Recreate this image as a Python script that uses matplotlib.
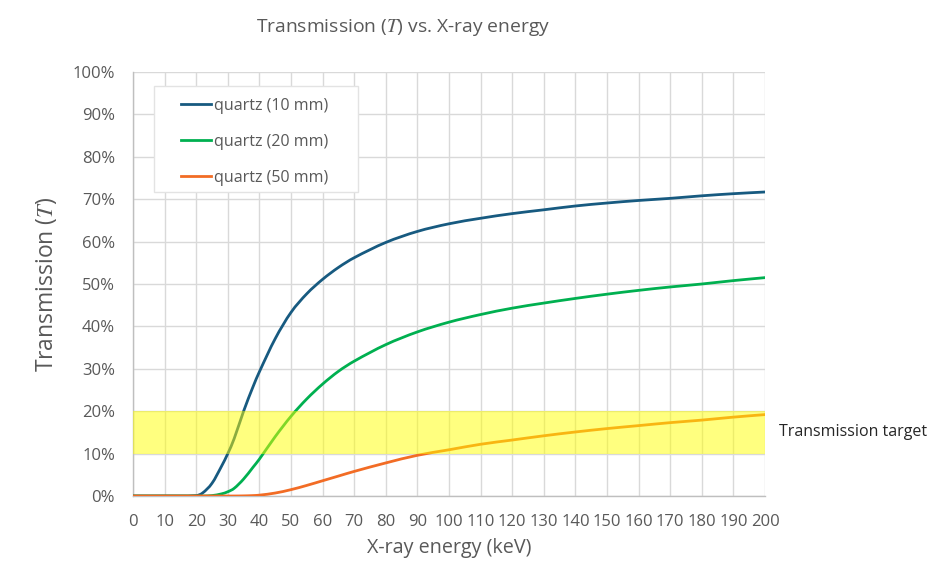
import matplotlib
matplotlib.use("Agg")
import matplotlib.pyplot as plt
from matplotlib.ticker import MultipleLocator, FuncFormatter
from matplotlib.path import Path
from matplotlib.patches import PathPatch, Rectangle
from matplotlib.lines import Line2D

# ---- data ----
energy_keV = [0, 10, 20, 22, 25, 28, 30, 32, 35, 38, 40, 45, 50, 55, 60, 65, 70,
              80, 90, 100, 110, 120, 130, 140, 150, 160, 170, 180, 190, 200]
quartz_10mm = [0, 0, 0.001, 0.007, 0.03, 0.07, 0.10, 0.135, 0.20, 0.258, 0.293, 0.371,
               0.433, 0.477, 0.511, 0.539, 0.562, 0.598, 0.624, 0.642, 0.655, 0.666,
               0.675, 0.684, 0.691, 0.697, 0.702, 0.708, 0.713, 0.717]
quartz_20mm = [0, 0, 0, 0, 0.001, 0.005, 0.01, 0.018, 0.04, 0.068, 0.087, 0.14,
               0.188, 0.229, 0.264, 0.294, 0.318, 0.357, 0.387, 0.41, 0.428, 0.443,
               0.455, 0.466, 0.476, 0.485, 0.493, 0.50, 0.508, 0.515]
quartz_50mm = [0, 0, 0, 0, 0, 0, 0, 0, 0.0003, 0.001, 0.002, 0.007, 0.015, 0.025,
               0.036, 0.047, 0.058, 0.078, 0.096, 0.109, 0.122, 0.132, 0.142, 0.151,
               0.159, 0.166, 0.173, 0.179, 0.186, 0.192]
series_labels = ["quartz (10 mm)", "quartz (20 mm)", "quartz (50 mm)"]
target_band = (0.10, 0.20)
title_text = r"Transmission ($T$) vs. X-ray energy"
xlabel_text = "X-ray energy (keV)"
ylabel_text = r"Transmission ($T$)"
band_label = "Transmission target"

plt.rcParams['font.family'] = ['Open Sans', 'DejaVu Sans']
plt.rcParams['mathtext.fontset'] = 'stix'

W, H = 939, 582
fig = plt.figure(figsize=(W/100, H/100), dpi=100)
ax = fig.add_axes([133/W, 1-496/H, (765-133)/W, (496-72)/H])


def smooth_path(xs, ys):
    """Excel-like smoothed line: cubic Hermite segments drawn as Bezier curves."""
    n = len(xs)
    m = []
    for i in range(n):
        if i == 0:
            m.append((ys[1]-ys[0])/(xs[1]-xs[0]))
        elif i == n-1:
            m.append((ys[-1]-ys[-2])/(xs[-1]-xs[-2]))
        else:
            m.append((ys[i+1]-ys[i-1])/(xs[i+1]-xs[i-1]))
    verts = [(xs[0], ys[0])]
    codes = [Path.MOVETO]
    for i in range(n-1):
        h = xs[i+1]-xs[i]
        verts += [(xs[i]+h/3, ys[i]+m[i]*h/3),
                  (xs[i+1]-h/3, ys[i+1]-m[i+1]*h/3),
                  (xs[i+1], ys[i+1])]
        codes += [Path.CURVE4]*3
    return Path(verts, codes)


colors = ['#175A80', '#00B050', '#F26C25']
handles = []
for y, lab, c in zip([quartz_10mm, quartz_20mm, quartz_50mm], series_labels, colors):
    ax.add_patch(PathPatch(smooth_path(energy_keV, y), fill=False, edgecolor=c,
                           lw=2.0, capstyle='round', joinstyle='round', zorder=3))
    handles.append(Line2D([], [], color=c, lw=2.0, label=lab))

ax.axhspan(target_band[0], target_band[1], color='#FFFF00', alpha=0.5, lw=0, zorder=4)

ax.set_xlim(0, 200)
ax.set_ylim(0, 1.0)
ax.xaxis.set_major_locator(MultipleLocator(10))
ax.yaxis.set_major_locator(MultipleLocator(0.1))
ax.yaxis.set_major_formatter(FuncFormatter(lambda v, p: f"{v*100:.0f}%"))
ax.grid(True, color='#D9D9D9', lw=1.0, zorder=0)
ax.set_axisbelow(True)
for s in ['top', 'right']:
    ax.spines[s].set_visible(False)
for s in ['left', 'bottom']:
    ax.spines[s].set_color('#BFBFBF')
    ax.spines[s].set_linewidth(1.0)
ax.tick_params(length=0, labelsize=12, labelcolor='#595959')
ax.tick_params(axis='x', pad=13)
ax.tick_params(axis='y', pad=13)

ax.set_xlabel(xlabel_text, fontsize=14.2, color='#595959', labelpad=6)
ax.set_ylabel(ylabel_text, fontsize=16.5, color='#595959', labelpad=10)
fig.text((257+549)/2/W, 1-27/H, title_text, ha='center', va='center',
         fontsize=13.9, color='#595959')

ax.text(1.0 + 14/632, 0.15, band_label, transform=ax.transAxes, ha='left', va='center',
        fontsize=11.5, color='#262626')

# legend frame (drawn separately to match Excel's padding)
frame = Rectangle((154/W, 1-192/H), (358-154)/W, (192-86)/H,
                  transform=fig.transFigure, facecolor='white',
                  edgecolor='#E3E3E3', lw=1.0, zorder=5, clip_on=False)
ax.add_artist(frame)
leg = ax.legend(handles=handles, loc='upper left', bbox_to_anchor=(181/W, 1-98/H),
                bbox_transform=fig.transFigure, fontsize=11.5, frameon=False,
                handlelength=1.875, handletextpad=0.2, labelspacing=1.25,
                borderpad=0, borderaxespad=0)
for t in leg.get_texts():
    t.set_color('#595959')
leg.set_zorder(6)

fig.savefig("out.png", dpi=100)
